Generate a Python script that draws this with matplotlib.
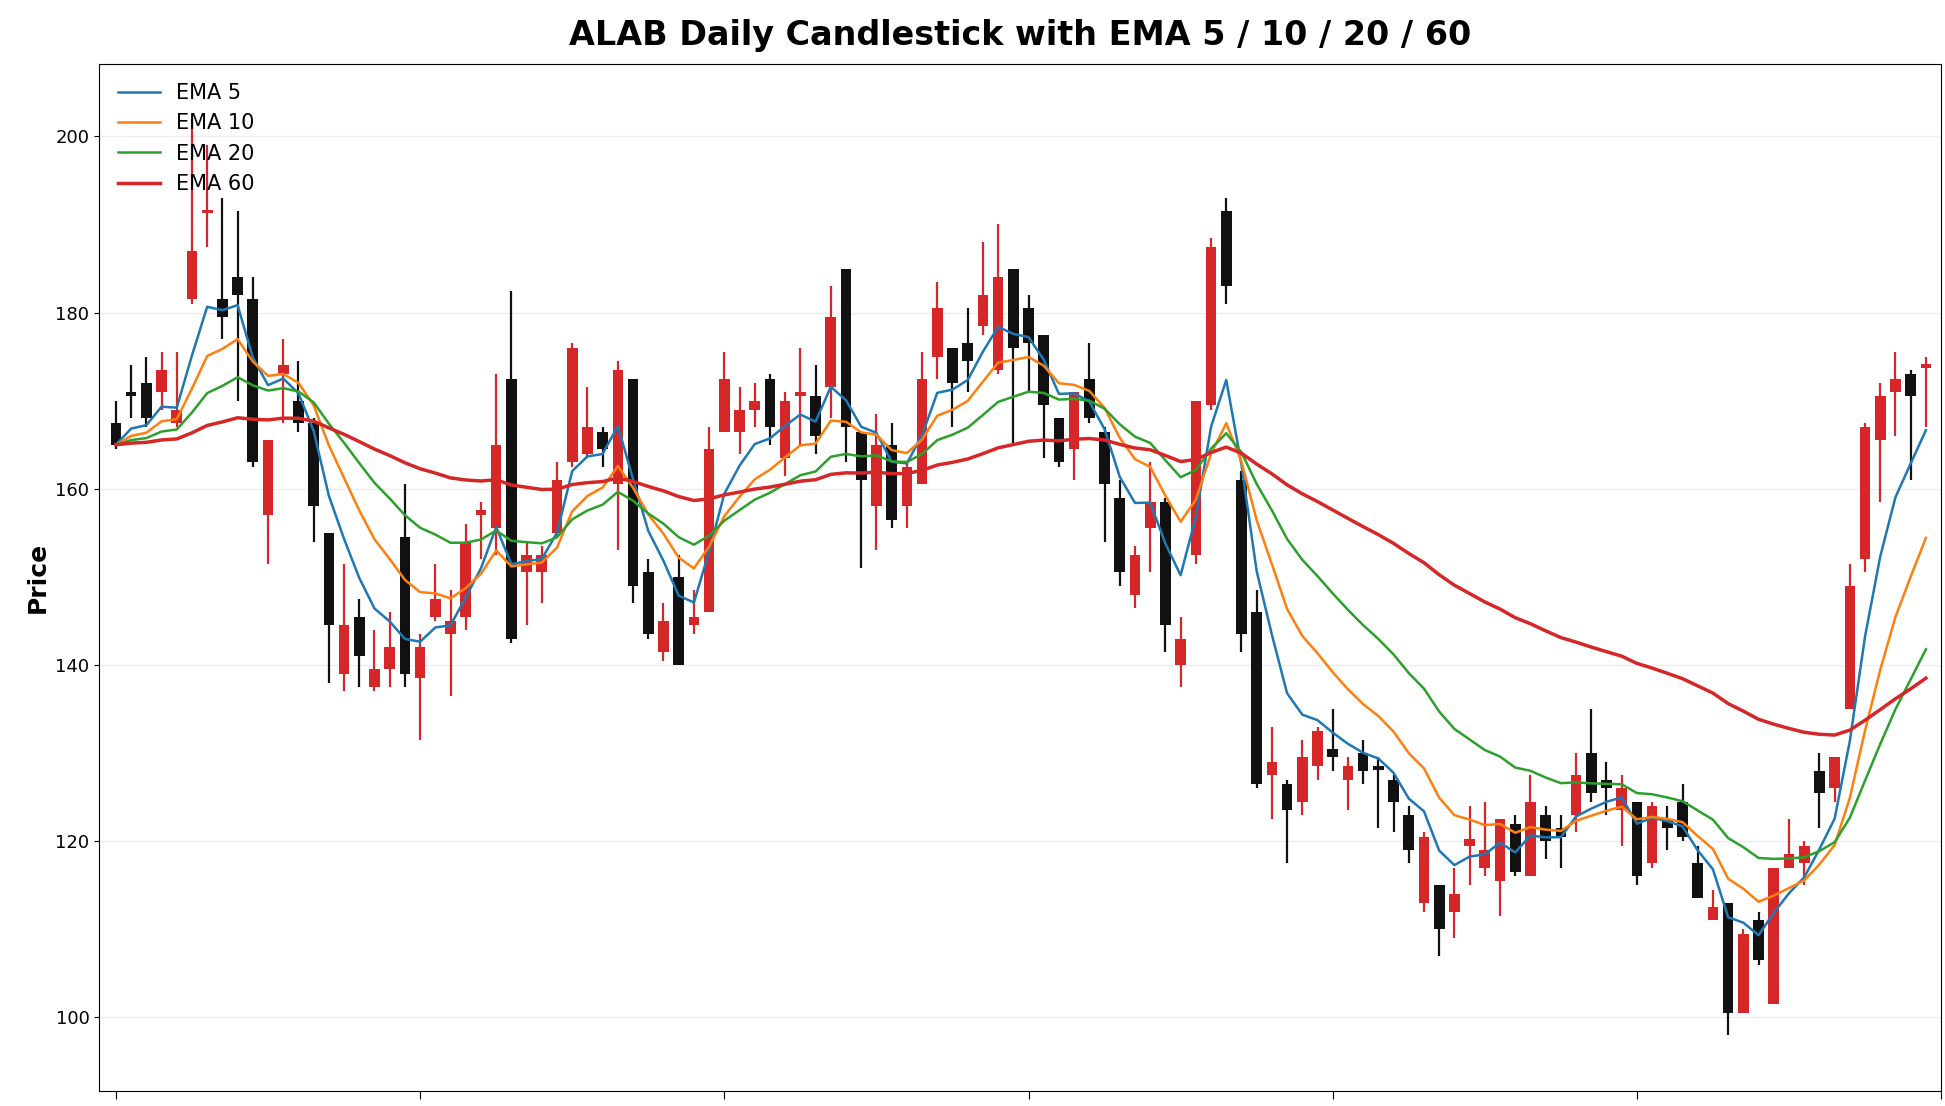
import matplotlib
matplotlib.use("Agg")
import matplotlib.pyplot as plt
import numpy as np
import pandas as pd

opens = [167.5,171,172,171,167.5,181.5,191.3,181.5,184,181.5,157,173,170,167.5,155,139,145.5,137.5,139.5,154.5,
         138.5,145.5,143.5,145.5,157,155.5,172.5,150.5,150.5,155,163,164,166.5,160.5,172.5,150.5,141.5,150,144.5,146,
         166.5,166.5,169,172.5,163.5,170.5,170.5,171.5,185,166.5,158,165,158,160.5,175,176,176.5,178.5,173.5,185,
         180.5,177.5,168,164.5,172.5,166.5,159,148,155.5,158.5,140,152.5,169.5,191.5,161,146,127.5,126.5,124.5,128.5,
         130.5,127,130,128.5,127,123,113,115,112,119.5,117,115.5,122,116,123,121.5,123,130,127,123.5,
         124.5,117.5,122.5,124.5,117.5,111,113,100.5,111,101.5,117,117.5,128,126,135,152,165.5,171,173,173.7]
closes = [165,170.5,168,173.5,169,187,191.7,179.5,182,163,165.5,174,167.5,158,144.5,144.5,141,139.5,142,139,
          142,147.5,145,154,157.6,165,143,152.5,152.5,161,176,167,164.5,173.5,149,143.5,145,140,145.5,164.5,
          172.5,169,170,167,170,171,166,179.5,167,161,165,156.5,162.5,172.5,180.5,172,174.5,182,184,176,
          176.5,169.5,163,171,168,160.5,150.5,152.5,158.5,144.5,143,170,187.5,183,143.5,126.5,129,123.5,129.5,132.5,
          129.5,128.5,128,128.1,124.5,119,120.5,110,114,120.2,119,122.5,116.5,124.5,120,120.5,127.5,125.5,126,126,
          116,124,121.5,120.5,113.5,112.5,100.5,109.5,106.5,117,118.5,119.5,125.5,129.5,149,167,170.5,172.5,170.5,174.2]
highs = [170,174,175,175.5,175.5,202,199,193,191.5,184,165.5,177,174.5,168,155,151.5,147.5,144,146,160.5,
         143.5,151.5,148.5,156,158.5,173,182.5,154,153.5,163,176.5,171.5,167,174.5,172.5,152,147,152.5,148.5,167,
         175.5,171.5,172,173,171,176,174,183,185,166.5,168.5,167.5,163,175.5,183.5,176,180.5,188,190,185,
         182,177.5,168,171,176.5,167,161,153.5,163,159,145.5,170,188.5,193,162,148.5,133,127,131.5,133,
         135,129.5,131.5,129.5,127.5,124,121,115,117,124,124.5,122.5,123,127.5,124,123,130,135,129,127.5,
         124.5,124.5,124,126.5,119.5,114.5,113,110,112,117,122.5,120,130,129.5,151.5,167.5,172,175.5,173.5,175]
lows = [164.5,168,167,169,167,181,187.5,177,170,162.5,151.5,167.5,166.5,154,138,137,137.5,137,137.5,137.5,
        131.5,145,136.5,144,152,152.5,142.5,144.5,147,154.5,162.5,163.5,162.5,153,147,143,140.5,140,143.5,146,
        166.5,164,167,165,161.5,165,164,168,163,151,153,155.5,155.5,160.5,172.5,167,171,177.5,173,165,
        171,163.5,162.5,161,167.5,154,149,146.5,150.5,141.5,137.5,151.5,169,181,141.5,126,122.5,117.5,123,127,
        128,123.5,126.5,121.5,121,117.5,112,107,109,115,116,111.5,116,116,118,117,121,124.5,123,119.5,
        115,117,119,120,113.5,111,98,100.5,106,101.5,117,115,121.5,124.5,135,150.5,158.5,166,161,167]
ema_spans = [5, 10, 20, 60]
ema_colors = ["#1f77b4", "#ff7f0e", "#2ca02c", "#d62728"]

df = pd.DataFrame({"open": opens, "high": highs, "low": lows, "close": closes})
x = np.arange(len(df))

fig = plt.figure(figsize=(19.45, 11.06), dpi=100)
ax = fig.add_axes([0.051, 0.014, 0.947, 0.928])

up = df["close"] >= df["open"]
cols = np.where(up, "#d62728", "#111111")
ax.vlines(x, df["low"], df["high"], colors=cols, linewidth=1.6, zorder=2)
bottoms = np.minimum(df["open"], df["close"])
heights = np.maximum(np.abs(df["close"] - df["open"]), 0.35)
ax.bar(x, heights, bottom=bottoms, width=0.7, color=cols, zorder=3)

for span, c in zip(ema_spans, ema_colors):
    ema = df["close"].ewm(span=span, adjust=False).mean()
    ax.plot(x, ema, color=c, linewidth=2.5 if span == 60 else 1.8, label=f"EMA {span}", zorder=4)

ax.set_xlim(-1.1, 120)
ax.set_ylim(91.7, 208.2)
ax.set_xticks(np.arange(0, 121, 20))
ax.set_xticklabels([])
ax.tick_params(axis="x", length=6)
ax.tick_params(axis="y", labelsize=13)
ax.grid(axis="y", color="#eeeeee", linewidth=1)
ax.set_axisbelow(True)
ax.set_ylabel("Price", fontsize=18, fontweight="bold")
ax.set_title("ALAB Daily Candlestick with EMA 5 / 10 / 20 / 60", fontsize=24, fontweight="bold", pad=14)
ax.legend(loc="upper left", fontsize=15, frameon=False)
fig.savefig("out.png", dpi=100)
